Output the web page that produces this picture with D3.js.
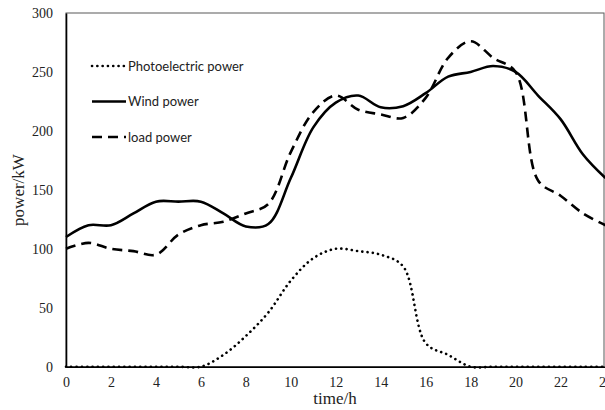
<!DOCTYPE html>
<html>
<head>
<meta charset="utf-8">
<script src="https://cdn.jsdelivr.net/npm/d3@7"></script>
<style>
  body { margin: 0; background: #fff; }
  svg { display: block; }
</style>
</head>
<body>
<svg id="chart" width="605" height="410"></svg>
<script>
// hours 0..24
const hours = d3.range(0, 25);
const photoPower = [0, 0, 0, 0, 0, 0, 0, 10, 26, 46, 73, 92, 100, 98, 95, 85, 20, 10, 0, 0, 0, 0, 0, 0, 0];
const windPower  = [110, 120, 120, 130, 140, 140, 140, 130, 119, 121, 160, 203, 224, 230, 220, 221, 232, 246, 250, 255, 250, 230, 210, 180, 160];
const loadPower  = [100, 105, 100, 98, 95, 112, 120, 123, 130, 138, 182, 216, 230, 218, 214, 211, 228, 262, 276, 262, 250, 158, 145, 130, 120];
const xTicks = d3.range(0, 25, 2);
const yTicks = [0, 50, 100, 150, 200, 250, 300];

const series = [
  { name: 'Photoelectric power', values: photoPower, dash: '0.1 5.2', cap: 'round' },
  { name: 'Wind power', values: windPower, dash: null, cap: 'butt' },
  { name: 'load power', values: loadPower, dash: '10 6', cap: 'butt' }
];

const svg = d3.select('#chart');
const x = d3.scaleLinear().domain([0, 24]).range([66, 605.5]);
const y = d3.scaleLinear().domain([0, 300]).range([366.7, 13]);

// plot border (top/right grey)
svg.append('rect')
    .attr('x', 66).attr('y', 13)
    .attr('width', 538).attr('height', 353.7)
    .attr('fill', 'none')
    .attr('stroke', '#595959')
    .attr('stroke-width', 1);

const line = d3.line()
    .x((d, i) => x(hours[i]))
    .y(d => y(d))
    .curve(d3.curveCatmullRom.alpha(0.5));

svg.selectAll('.series')
  .data(series)
  .join('path')
    .attr('class', 'series')
    .attr('d', d => line(d.values))
    .attr('fill', 'none')
    .attr('stroke', '#000')
    .attr('stroke-width', 2.6)
    .attr('stroke-linecap', d => d.cap)
    .attr('stroke-dasharray', d => d.dash);

// axes
const xAxis = svg.append('g')
    .attr('transform', `translate(0,${y(0)})`)
    .call(d3.axisBottom(x).tickValues(xTicks).tickSize(0).tickPadding(10));
const yAxis = svg.append('g')
    .attr('transform', `translate(${x(0)},0)`)
    .call(d3.axisLeft(y).tickValues(yTicks).tickSize(0).tickPadding(13));

[xAxis, yAxis].forEach(g => {
  g.select('.domain').attr('stroke', '#000').attr('stroke-width', 1.6);
  g.selectAll('text')
    .attr('fill', '#222')
    .style('font-family', '"Liberation Serif", "Times New Roman", serif')
    .style('font-size', '14px');
});

svg.append('text')
    .attr('x', 335).attr('y', 404)
    .attr('text-anchor', 'middle')
    .style('font-family', '"Liberation Serif", serif')
    .style('font-size', '17px')
    .attr('fill', '#222')
    .text('time/h');

svg.append('text')
    .attr('transform', 'translate(24,190) rotate(-90)')
    .attr('text-anchor', 'middle')
    .style('font-family', '"Liberation Serif", serif')
    .style('font-size', '17px')
    .attr('fill', '#222')
    .text('power/kW');

// legend
const legend = svg.append('g')
  .selectAll('g')
  .data(series)
  .join('g')
    .attr('transform', (d, i) => `translate(92,${66 + i * 35.5})`);

legend.append('line')
    .attr('x1', 0).attr('x2', 34)
    .attr('stroke', '#000')
    .attr('stroke-width', 2.6)
    .attr('stroke-linecap', d => d.cap)
    .attr('stroke-dasharray', d => d.dash);

legend.append('text')
    .attr('x', 36).attr('y', 4.5)
    .style('font-family', 'Lato, "Open Sans", sans-serif')
    .style('font-size', '13px')
    .attr('fill', '#222')
    .text(d => d.name);
</script>
</body>
</html>
